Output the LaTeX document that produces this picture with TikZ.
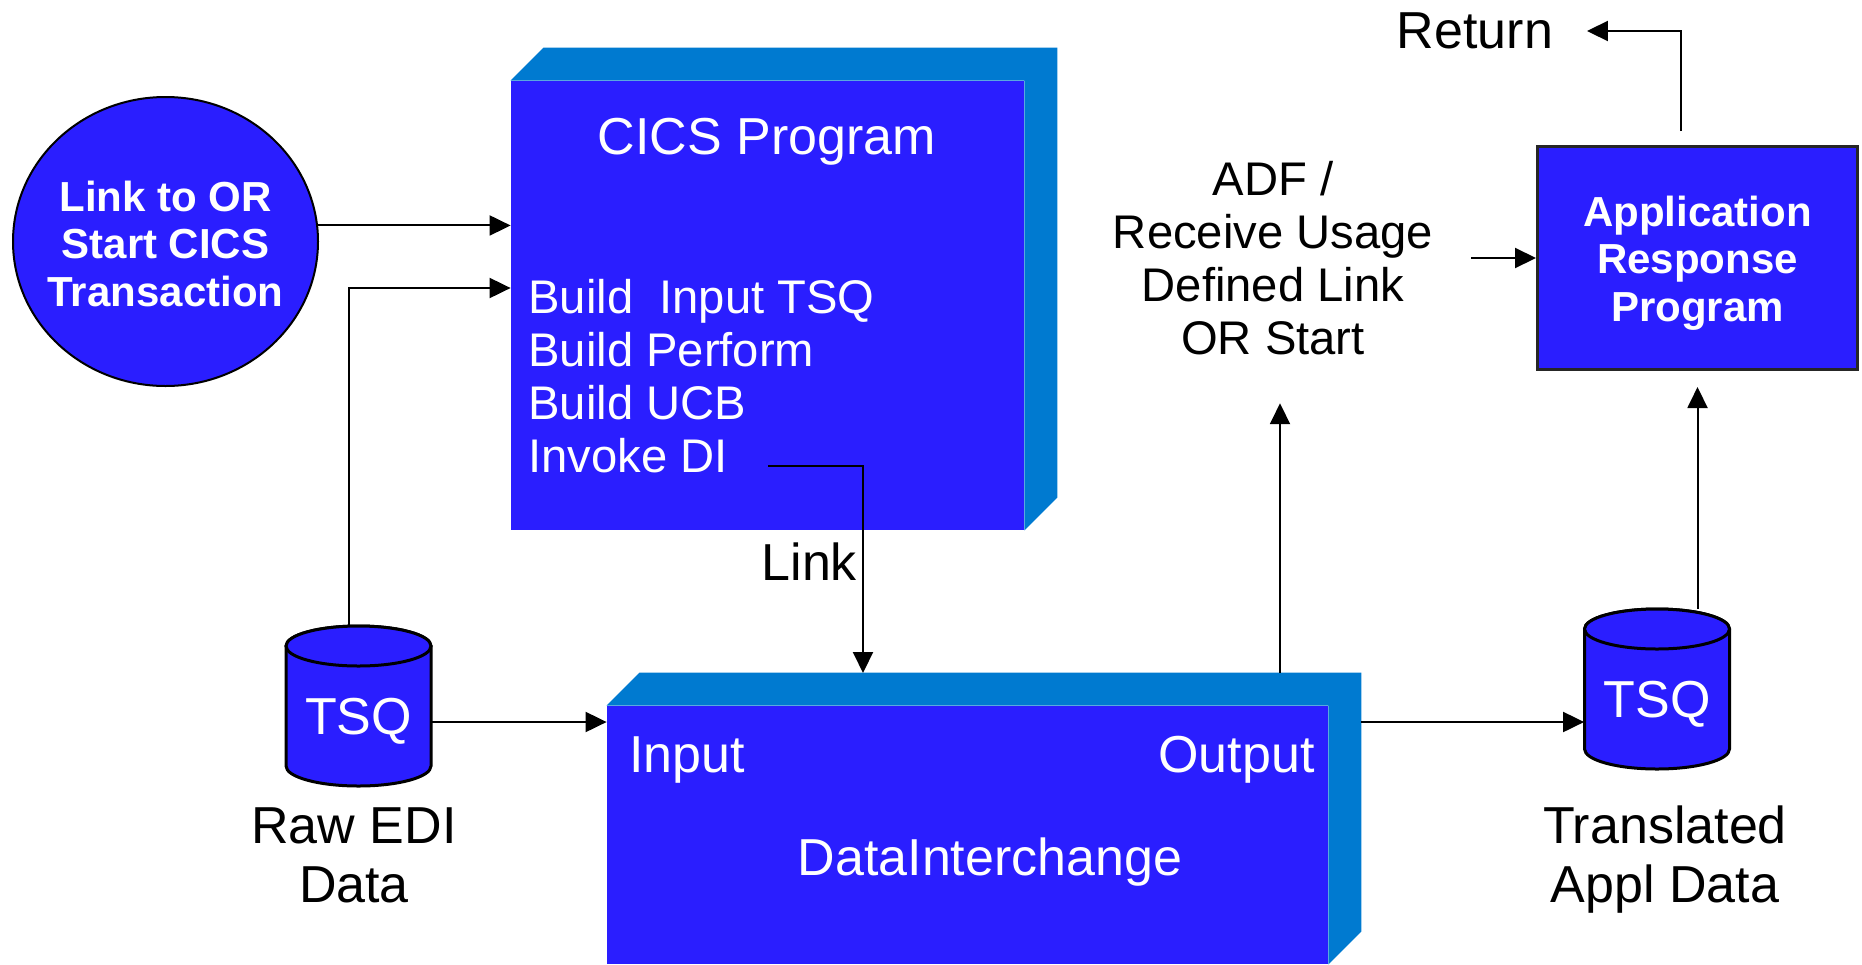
\documentclass[tikz,border=0pt]{standalone}
\usepackage{fontspec}
\setmainfont{Liberation Sans}
\usepackage{tikz}
\usetikzlibrary{arrows.meta,shapes.geometric}

\definecolor{frontblue}{RGB}{42,30,255}
\definecolor{sideblue}{RGB}{0,122,208}

\newcommand{\labelfont}{\fontsize{26}{29.5}\selectfont}
\newcommand{\listfont}{\fontsize{23.6}{26.5}\selectfont}
\newcommand{\headfont}{\fontsize{21}{23.75}\selectfont\bfseries}

\tikzset{
  conn/.style={line width=1pt, -{Triangle[length=10.5pt,width=10pt]}},
  frontface/.style={fill=frontblue, inner sep=0pt},
  sideface/.style={fill=sideblue},
  drumline/.style={draw=black, line width=1.5pt, fill=frontblue},
  whitetext/.style={text=white, inner sep=0pt},
}

\newcommand{\solidbox}[1]{%
  \fill[sideface] (#1.north west) -- ++(33,-33) -- ([shift={(33,-33)}]#1.north east)
    -- ([shift={(33,-33)}]#1.south east) -- (#1.south east) -- (#1.north east) -- cycle;
}

\newcommand{\tsqdrum}[3]{%
  \filldraw[drumline] (#2-72.5,#3+20) -- (#2-72.5,#3+140)
    arc[start angle=180,end angle=0,x radius=72.5,y radius=20] -- (#2+72.5,#3+20)
    arc[start angle=0,end angle=-180,x radius=72.5,y radius=20] -- cycle;
  \draw[drumline] (#2,#3+20) ellipse[x radius=72.5,y radius=20];
  \node[minimum width=72.5pt, minimum height=80pt, inner sep=0pt] (#1) at (#2,#3+80) {};
  \node[whitetext, font=\labelfont] (#1text) at ([yshift=-7.5pt]#1) {TSQ};
}

\begin{document}
\begin{tikzpicture}[x=0.5pt,y=-0.5pt]

\useasboundingbox (0,0) rectangle (1862,964);

\node[ellipse, draw=black, line width=1pt, fill=frontblue, minimum width=152.5pt, minimum height=144.5pt] (start) at (165.5,241.5) {};
\node[whitetext, font=\headfont, align=center] (starttext) at ([yshift=-1.2pt]start) {Link to OR\\Start CICS\\Transaction};

\node[frontface, minimum width=256.5pt, minimum height=224.5pt] (cics) at (767.5,305.5) {};
\solidbox{cics}
\node[whitetext, font=\labelfont, anchor=base] (cicsname) at (767,154) {CICS Program};

\foreach \t [count=\k] in {Build~ Input TSQ, Build Perform, Build UCB, Invoke DI} {
  \node[whitetext, font=\listfont, anchor=base west] (step\k) at (528,260+53*\k) {\t};
}

\node[frontface, minimum width=360.5pt, minimum height=129pt] (di) at (967.5,835) {};
\solidbox{di}
\node[whitetext, font=\labelfont, anchor=base west] (input) at (629,772) {Input};
\node[whitetext, font=\labelfont, anchor=base east] (output) at (1315,772) {Output};
\node[whitetext, font=\labelfont, anchor=base] (diname) at (990,875) {DataInterchange};

\tsqdrum{rawq}{358.5}{626}
\tsqdrum{trq}{1657}{609}

\node[font=\labelfont, align=center] (rawlbl) at (354,855) {Raw EDI\\Data};
\node[font=\labelfont, align=center] (trlbl) at (1665,860) {Translated\\Appl Data};

\node[draw=black!85, line width=1.5pt, fill=frontblue, minimum width=160pt, minimum height=111.5pt] (app) at (1697.5,258) {};
\node[whitetext, font=\headfont, align=center] (apptext) at ([yshift=-2.4pt]app) {Application\\Response\\Program};

\node[font=\listfont, align=center, inner xsep=19pt, inner ysep=24pt] (adf) at (1273,258) {ADF /\\Receive Usage\\Defined Link\\OR Start};
\node[font=\labelfont, inner xsep=16.75pt] (ret) at (1475,31) {Return};

\coordinate (di in) at (863,673);
\coordinate (di out) at (1280,673);
\coordinate (di side) at ([xshift=16.5pt]di.east);
\coordinate (rawout) at ([yshift=-8pt]rawq.east);
\coordinate (trqin) at ([yshift=-16.5pt]trq.west);

\draw[conn] (start.6) -- (start.6 -| cics.west);
\draw[conn] ([xshift=-4.75pt]rawq.north) |- ([yshift=8.75pt]cics.west);
\draw[conn] ([xshift=20pt,yshift=3pt]step4.base east) -| (di in)
  node[pos=0.73, left, font=\labelfont, inner sep=2.5pt] (linklbl) {Link};
\draw[conn] (rawout) -- (rawout -| di.west);
\draw[conn] (di side |- trqin) -- (trqin);
\draw[conn] (di out) -- (di out |- adf.south);
\draw[conn] (adf.east) -- (adf.east -| app.west);
\draw[conn] (trq.north -| app.south) -- ([yshift=-8pt]app.south);
\draw[conn] ([xshift=-8.25pt,yshift=7pt]app.north) |- (ret.east);

\end{tikzpicture}
\end{document}
